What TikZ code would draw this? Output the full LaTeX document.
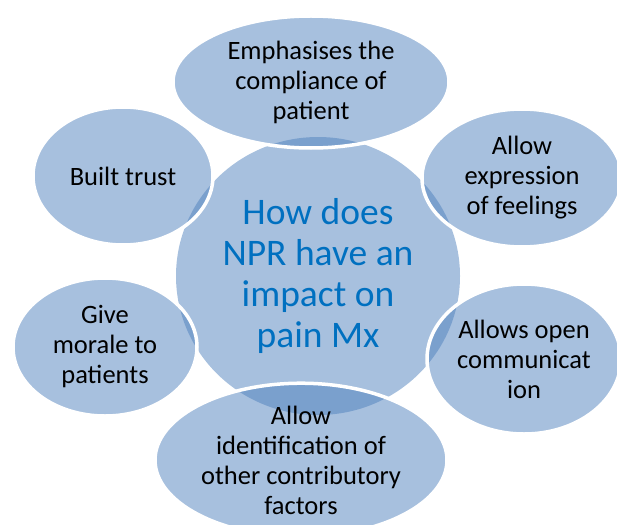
\documentclass[tikz,border=0pt]{standalone}
\usepackage{fontspec}
\setmainfont{Carlito}
\usetikzlibrary{shapes.geometric}

\definecolor{petalblue}{HTML}{4F81BD}
\definecolor{hubtext}{HTML}{0070C0}

\begin{document}
\begin{tikzpicture}[
    x=1pt, y=-1pt,
    every node/.style={font=\fontsize{26.5}{30}\selectfont, align=center, inner sep=0pt},
    hubnode/.style={ellipse, fill=petalblue, fill opacity=0.5, text opacity=1,
        text=hubtext, font=\fontsize{37.5}{41}\selectfont},
    petal/.style={ellipse, draw=white, line width=3.5pt, fill=petalblue,
        fill opacity=0.5, draw opacity=1, text opacity=1, text=black}
]

    % --------------------------------------------------------
    % 1. FRAME OF THE PICTURE
    % --------------------------------------------------------
    \useasboundingbox (0,0) rectangle (617,524);
    \clip (0,0) rectangle (617,524);

    % --------------------------------------------------------
    % 2. THE HUB
    % --------------------------------------------------------
    \node (hub) [hubnode, minimum width=284pt, minimum height=278pt] at (318,276)
        {How does\\NPR have an\\impact on\\pain Mx};

    % --------------------------------------------------------
    % 3. THE PETALS, CLOCKWISE FROM THE TOP
    % --------------------------------------------------------
    \node (compliance) [petal, minimum width=276pt, minimum height=132pt] at (311,82)
        {Emphasises the\\compliance of\\patient};

    \node (feelings) [petal, minimum width=200pt, minimum height=138pt] at (522,178)
        {Allow\\expression\\of feelings};

    \node (communication) [petal, minimum width=194pt, minimum height=150pt] at (524,359)
        {Allows open\\communicat\\ion};

    \node (factors) [petal, minimum width=292pt, minimum height=138pt] at (301,460)
        {Allow\\identification of\\other contributory\\factors};

    \node (morale) [petal, minimum width=184pt, minimum height=138pt] at (105,347)
        {Give\\morale to\\patients};

    \node (trust) [petal, minimum width=180pt, minimum height=138pt] at (123,176)
        {Built trust};

\end{tikzpicture}
\end{document}
